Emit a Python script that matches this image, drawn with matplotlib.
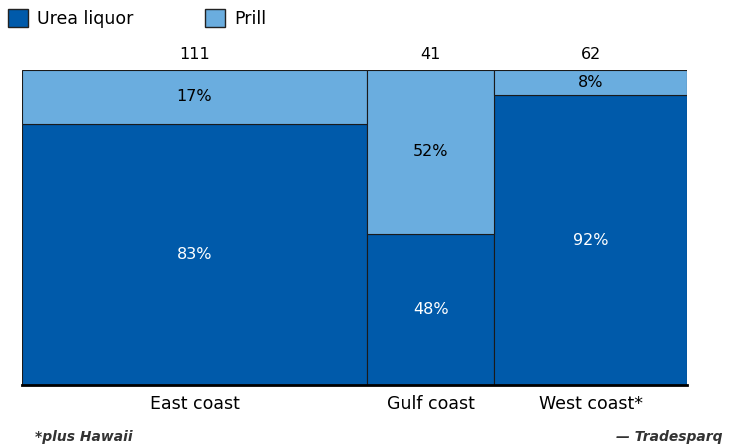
import numpy as np
import matplotlib.pyplot as plt
from matplotlib.patches import Patch

regions = ["East coast", "Gulf coast", "West coast*"]
totals = [111, 41, 62]
urea_pct = [83, 48, 92]
prill_pct = [17, 52, 8]

dark = "#005aaa"
light = "#6aaddf"

plt.rcParams['font.family'] = ['DejaVu Sans']

fig = plt.figure(figsize=(7.3, 4.45), dpi=100)
ax = fig.add_axes([22 / 730, 1 - 385 / 445, 665 / 730, 315 / 445])

widths = np.array(totals) / sum(totals)
lefts = np.concatenate([[0], np.cumsum(widths)[:-1]])
urea = np.array(urea_pct) / 100
prill = np.array(prill_pct) / 100

ax.bar(lefts, urea, width=widths, align='edge', color=dark,
       edgecolor="#1a1a1a", linewidth=0.8)
ax.bar(lefts, prill, width=widths, bottom=urea, align='edge', color=light,
       edgecolor="#1a1a1a", linewidth=0.8)

for x, w, u, p, t in zip(lefts, widths, urea, prill, totals):
    cx = x + w / 2
    ax.text(cx, u / 2, f"{round(u * 100)}%", ha='center', va='center',
            color='white', fontsize=11.5)
    ax.text(cx, u + p / 2, f"{round(p * 100)}%", ha='center', va='center',
            color='black', fontsize=11.5)
    ax.text(cx, 1.025, str(t), ha='center', va='bottom', color='black',
            fontsize=11.5)

ax.set_xlim(0, 1)
ax.set_ylim(0, 1)
ax.set_xticks(lefts + widths / 2)
ax.set_xticklabels(regions, fontsize=12.5)
ax.tick_params(axis='x', length=0, pad=7.5)
ax.set_yticks([])
for s in ['top', 'right', 'left']:
    ax.spines[s].set_visible(False)
ax.spines['bottom'].set_linewidth(2)
ax.spines['bottom'].set_color('black')

handles = [Patch(facecolor=dark, edgecolor='#222222', label='Urea liquor'),
           Patch(facecolor=light, edgecolor='#222222', label='Prill')]
fig.legend(handles=handles, loc='upper left', bbox_to_anchor=(-0.011, 1.015),
           ncol=2, frameon=False, fontsize=12.5, handlelength=1.2,
           handleheight=1.2, columnspacing=4.1, handletextpad=0.5)

fig.text(35 / 730, 1 - 437 / 445, "*plus Hawaii", fontsize=10,
         fontweight='bold', style='italic', color='#333333', va='center')
fig.text(722 / 730, 1 - 437 / 445, "\u2014 Tradesparq", fontsize=10,
         fontweight='bold', style='italic', color='#333333', va='center',
         ha='right')

fig.savefig("out.png", dpi=100)
